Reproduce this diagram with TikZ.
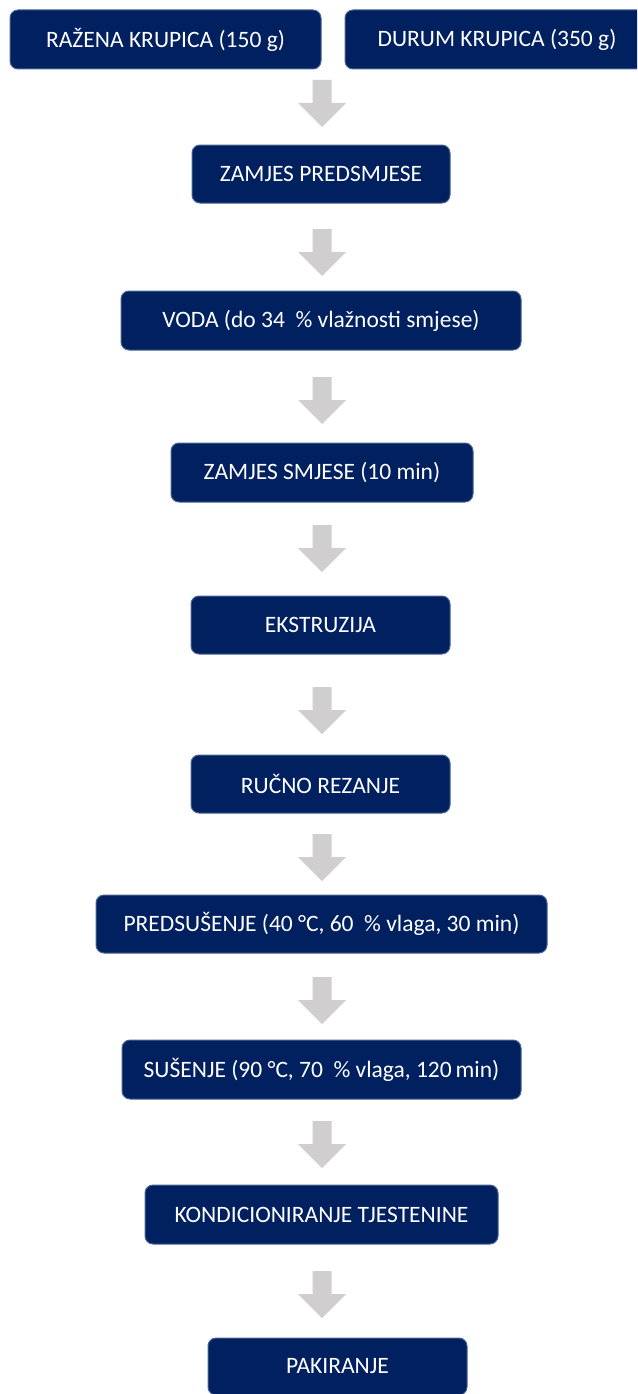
\documentclass[tikz,border=0pt]{standalone}
\usepackage{fontspec}
\setmainfont{Carlito}
\definecolor{boxnavy}{RGB}{0,32,96}
\definecolor{boxedge}{RGB}{72,100,148}
\definecolor{arrowgray}{RGB}{208,206,206}
\tikzset{
  procbox/.style={rectangle, rounded corners=8pt, fill=boxnavy, draw=boxedge,
    line width=1pt, text=white, minimum height=59pt, inner sep=0pt,
    font=\fontsize{23.5}{28}\selectfont},
  pics/dnarrow/.style={code={
    \fill[arrowgray] (-9.5,0) -- (9.5,0) -- (9.5,23) -- (24,23) -- (0,47)
      -- (-24,23) -- (-9.5,23) -- cycle;}}
}
\begin{document}
\begin{tikzpicture}[x=1pt,y=-1pt]
\useasboundingbox (0,0) rectangle (637,1394);
\clip (0,0) rectangle (637,1394);
\node[procbox, minimum width=311pt] (raz) at (165.5,39.5) {RAŽENA KRUPICA (150 g)};
\node[procbox, minimum width=304pt] (dur) at (497,39.5) {DURUM KRUPICA (350 g)};
\node[procbox, minimum width=258pt, minimum height=58pt] (pred) at (321,174) {ZAMJES PREDSMJESE};
\node[procbox, minimum width=400pt] (voda) at (321,320.5) {VODA (do 34~\ \% vlažnosti smjese)};
\node[procbox, minimum width=302pt] (smj) at (322,472.5) {ZAMJES SMJESE (10 min)};
\node[procbox, minimum width=259pt, minimum height=58pt] (ekst) at (320.5,625) {EKSTRUZIJA};
\node[procbox, minimum width=259pt, minimum height=58pt] (rez) at (320.5,784) {RUČNO REZANJE};
\node[procbox, minimum width=451pt, minimum height=58pt] (presus) at (321.5,924) {PREDSUŠENJE (40 °C, 60~\ \% vlaga, 30 min)};
\node[procbox, minimum width=399pt] (sus) at (321.5,1069.5) {SUŠENJE (90 °C, 70~\ \% vlaga, 120\,min)};
\node[procbox, minimum width=353pt] (kond) at (321.5,1214.5) {KONDICIONIRANJE TJESTENINE};
\node[procbox, minimum width=259pt, minimum height=57pt] (pak) at (337.5,1366.5) {PAKIRANJE};
\coordinate (a1) at (322,80);
\coordinate (a2) at (322,229);
\coordinate (a3) at (322,377);
\coordinate (a4) at (322,525);
\coordinate (a5) at (322,687);
\coordinate (a6) at (322,834);
\coordinate (a7) at (322,977);
\coordinate (a8) at (322,1121);
\coordinate (a9) at (322,1271);
\foreach \a in {a1,a2,a3,a4,a5,a6,a7,a8,a9} { \pic at (\a) {dnarrow}; }
\end{tikzpicture}
\end{document}
